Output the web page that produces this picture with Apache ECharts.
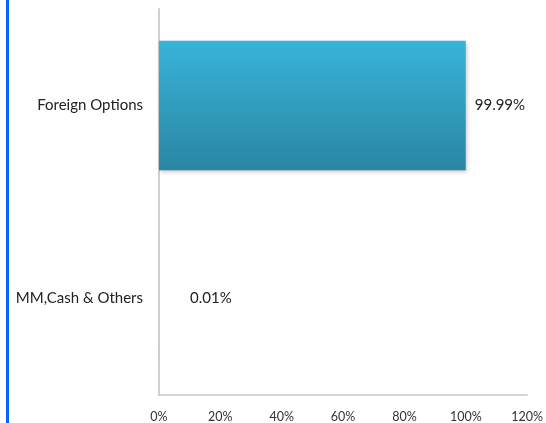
<!DOCTYPE html>
<html>
<head>
<meta charset="utf-8">
<script src="https://cdn.jsdelivr.net/npm/echarts@6/dist/echarts.min.js"></script>
<style>html,body{margin:0;padding:0;background:#fff;}#c{width:546px;height:423px;}</style>
</head>
<body>
<div id="c"></div>
<script>
var categories = ['MM,Cash & Others', 'Foreign Options'];
var values = [0.01, 99.99];
var labelTexts = ['0.01%', '99.99%'];
var xTicks = { min: 0, max: 120, interval: 20 };

var FONT = 'Lato, "Liberation Sans", sans-serif';
var chart = echarts.init(document.getElementById('c'), null, { renderer: 'canvas' });
var labelDistances = [31, 9];
chart.setOption({
  animation: false,
  backgroundColor: '#ffffff',
  graphic: [{
    type: 'rect', left: 6, top: 0,
    shape: { width: 3, height: 423 },
    style: { fill: '#0a64f8' }
  }],
  grid: { left: 159, right: 14, top: 9, bottom: 26, containLabel: false },
  xAxis: {
    type: 'value', min: xTicks.min, max: xTicks.max, interval: xTicks.interval,
    axisLine: { show: true, lineStyle: { color: '#c8c8c8', width: 1.5 } },
    axisTick: { show: false },
    splitLine: { show: false },
    axisLabel: { formatter: '{value}%', color: '#333', fontSize: 12.5, fontFamily: FONT, margin: 15 }
  },
  yAxis: {
    type: 'category', data: categories,
    axisLine: { show: true, lineStyle: { color: '#d0d0d0', width: 2 } },
    axisTick: { show: false },
    axisLabel: { color: '#222', fontSize: 15, fontFamily: FONT, margin: 16 }
  },
  series: [{
    type: 'bar',
    barWidth: '67%',
    data: values.map(function (v, i) {
      return {
        value: v,
        label: { show: true, position: 'right', distance: labelDistances[i], formatter: labelTexts[i] }
      };
    }),
    label: { color: '#222', fontSize: 15, fontFamily: FONT },
    itemStyle: {
      color: new echarts.graphic.LinearGradient(0, 0, 0, 1, [
        { offset: 0, color: '#37b4d9' },
        { offset: 1, color: '#2a86a2' }
      ]),
      shadowColor: 'rgba(0,0,0,0.22)', shadowBlur: 4, shadowOffsetX: 1, shadowOffsetY: 2
    }
  }]
});
</script>
</body>
</html>
